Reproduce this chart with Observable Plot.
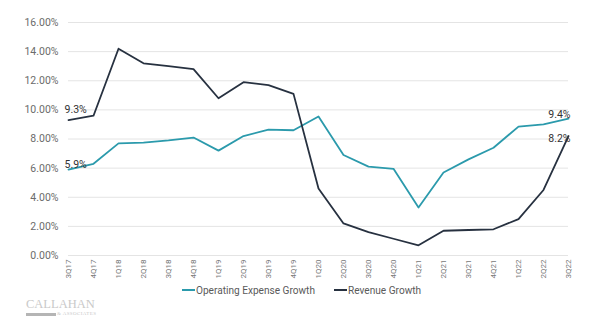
<!DOCTYPE html>
<html>
<head>
<meta charset="utf-8">
<script src="https://cdn.jsdelivr.net/npm/d3@7"></script>
<script src="https://cdn.jsdelivr.net/npm/@observablehq/plot@0.6"></script>
<style>
  html, body { margin: 0; padding: 0; background: #fff; }
  #wrap { position: relative; width: 600px; height: 327px; overflow: hidden; font-family: Roboto, sans-serif; }
  #chart { position: absolute; left: 0; top: 0; }
  .legend { position: absolute; top: 283px; height: 14px; display: flex; align-items: center; font-size: 10.1px; color: #5a5a5a; white-space: nowrap; }
  .sw { display: inline-block; width: 13px; height: 2px; margin-right: 1px; }
  .logo { position: absolute; left: 26px; top: 297px; font-family: "Liberation Serif", "DejaVu Serif", serif; color: #c9c9c9; font-size: 12.5px; letter-spacing: 0px; line-height: 14px; }
  .logo-bar { position: absolute; left: 26px; top: 313px; width: 30px; height: 3px; background: #b5b5b5; }
  .logo-sub { position: absolute; left: 57px; top: 311px; font-family: "Liberation Serif", serif; font-size: 5px; color: #c9c9c9; letter-spacing: 0.4px; }
</style>
</head>
<body>
<div id="wrap">
  <div id="chart"></div>
  <div class="legend" style="left:182px"><span class="sw" style="background:#2b9aac"></span>Operating Expense Growth</div>
  <div class="legend" style="left:334px"><span class="sw" style="background:#273140"></span>Revenue Growth</div>
  <div class="logo">CALLAHAN</div>
  <div class="logo-bar"></div>
  <div class="logo-sub">&amp; ASSOCIATES</div>
</div>
<script>
const quarters = ["3Q17","4Q17","1Q18","2Q18","3Q18","4Q18","1Q19","2Q19","3Q19","4Q19","1Q20","2Q20","3Q20","4Q20","1Q21","2Q21","3Q21","4Q21","1Q22","2Q22","3Q22"];
const opexGrowth = [5.9,6.3,7.7,7.75,7.9,8.1,7.2,8.2,8.65,8.6,9.55,6.9,6.1,5.95,3.3,5.7,6.6,7.4,8.85,9.0,9.4];
const revenueGrowth = [9.3,9.6,14.2,13.2,13.0,12.8,10.8,11.9,11.7,11.1,4.6,2.2,1.6,1.15,0.7,1.7,1.75,1.8,2.5,4.5,8.2];
const seriesNames = ["Operating Expense Growth","Revenue Growth"];
const seriesColors = ["#2b9aac","#273140"];
const yTicks = [0,2,4,6,8,10,12,14,16];

const data = quarters.flatMap((q, i) => [
  {q, v: opexGrowth[i], s: seriesNames[0]},
  {q, v: revenueGrowth[i], s: seriesNames[1]}
]);
const last = quarters.length - 1;
const labelsStart = [
  {q: quarters[0], v: revenueGrowth[0], dy: -10},
  {q: quarters[0], v: opexGrowth[0], dy: -5}
];
const labelsEnd = [
  {q: quarters[last], v: opexGrowth[last], dy: -4},
  {q: quarters[last], v: revenueGrowth[last], dy: 3}
];

const chart = Plot.plot({
  width: 600,
  height: 282,
  marginTop: 22,
  marginBottom: 27,
  marginLeft: 68,
  marginRight: 32,
  style: {fontFamily: "Roboto, sans-serif", color: "#6b6b6b", background: "white"},
  x: {type: "point", domain: quarters, padding: 0},
  y: {domain: [0, 16]},
  color: {domain: seriesNames, range: seriesColors},
  marks: [
    Plot.ruleY(yTicks, {stroke: "#e4e4e4", strokeWidth: 1}),
    Plot.axisY(yTicks, {tickSize: 0, tickPadding: 10, tickFormat: d => d.toFixed(2) + "%", fontSize: 10.5, label: null, fill: "#6b6b6b"}),
    Plot.axisX({tickSize: 0, tickPadding: 4, tickRotate: -90, fontSize: 8, label: null, fill: "#777"}),
    Plot.line(data, {x: "q", y: "v", stroke: "s", strokeWidth: 1.8}),
    ...labelsStart.map(d => Plot.text([d], {x: "q", y: "v", text: d => d.v.toFixed(1) + "%", textAnchor: "start", dx: -4, dy: d.dy, fontSize: 10.5, fill: "#333"})),
    ...labelsEnd.map(d => Plot.text([d], {x: "q", y: "v", text: d => d.v.toFixed(1) + "%", textAnchor: "end", dx: 2, dy: d.dy, fontSize: 10.5, fill: "#333"}))
  ]
});
document.getElementById("chart").appendChild(chart);
</script>
</body>
</html>
